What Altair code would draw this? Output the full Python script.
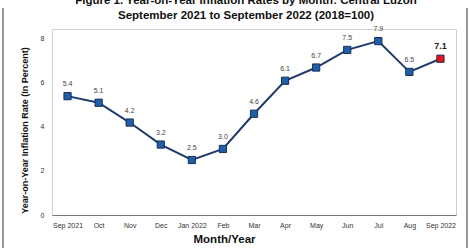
import altair as alt
import pandas as pd

months = ["Sep 2021", "Oct", "Nov", "Dec", "Jan 2022", "Feb", "Mar", "Apr",
          "May", "Jun", "Jul", "Aug", "Sep 2022"]
rates = [5.4, 5.1, 4.2, 3.2, 2.5, 3.0, 4.6, 6.1, 6.7, 7.5, 7.9, 6.5, 7.1]
labels = ["5.4", "5.1", "4.2", "3.2", "2.5", "3.0", "4.6", "6.1", "6.7", "7.5", "7.9", "6.5", "7.1"]
y_ticks = [0, 2, 4, 6, 8]
title_lines = ["Figure 1.  Year-on-Year Inflation Rates by Month: Central Luzon",
               "September 2021 to September 2022 (2018=100)"]

df = pd.DataFrame({"month": months, "rate": rates, "label": labels})
df["latest"] = [False] * (len(months) - 1) + [True]

FONT = "Liberation Sans"
xenc = alt.X("month:N", sort=months,
             scale=alt.Scale(type="point", padding=0.5),
             axis=alt.Axis(title="Month/Year", labelAngle=0, labelFontSize=7,
                           labelColor="#333333", labelFont=FONT, labelPadding=6,
                           ticks=False, domainColor="#777777", domainWidth=1.2,
                           titleFont=FONT, titleFontSize=11.5, titleFontWeight="bold",
                           titleColor="#111111", titleX=172, titleY=24,
                           titleBaseline="middle", grid=False))
yenc = alt.Y("rate:Q", scale=alt.Scale(domain=[0, 8.45], nice=False, zero=True),
             axis=alt.Axis(title="Year-on-Year Inflation Rate (In Percent)",
                           values=y_ticks, labelFontSize=7, labelColor="#333333",
                           labelFont=FONT, labelPadding=8, ticks=False, domain=False,
                           grid=False, titleFont=FONT, titleFontSize=9,
                           titleFontWeight="bold", titleColor="#111111",
                           titleAngle=-90, titleX=-28, titleY=101,
                           titleBaseline="middle", titleAlign="center"))

base = alt.Chart(df)
line = base.mark_line(color="#1F3A6B", strokeWidth=2).encode(x=xenc, y=yenc)
pts = base.mark_square(size=52, opacity=1, stroke="#1A2E55", strokeWidth=1).encode(
    x=xenc, y=yenc,
    color=alt.condition("datum.latest", alt.value("#E8141A"), alt.value("#1F5FA8")))
txt = base.transform_filter("!datum.latest").mark_text(
    dy=-12, fontSize=7, color="#444444", font=FONT).encode(x=xenc, y=yenc, text="label:N")
txt_last = base.transform_filter("datum.latest").mark_text(
    dy=-13, fontSize=9, fontWeight="bold", color="#222222", font=FONT).encode(
    x=xenc, y=yenc, text="label:N")

one = pd.DataFrame({"a": [0]})
frame_l = alt.Chart(one).mark_rule(color="#555555", strokeWidth=1.2, clip=False).encode(
    x=alt.value(-49), y=alt.value(-21), y2=alt.value(219))
frame_r = alt.Chart(one).mark_rule(color="#555555", strokeWidth=1.2, clip=False).encode(
    x=alt.value(415), y=alt.value(-21), y2=alt.value(219))

tdf = pd.DataFrame({"t": title_lines, "i": [0, 1]})
tstyle = dict(font=FONT, fontSize=11.5, fontWeight="bold", color="#111111",
              align="center", baseline="alphabetic", clip=False)
title1 = alt.Chart(tdf).transform_filter("datum.i == 0").mark_text(**tstyle).encode(
    x=alt.value(194), y=alt.value(-25), text="t:N")
title2 = alt.Chart(tdf).transform_filter("datum.i == 1").mark_text(**tstyle).encode(
    x=alt.value(194), y=alt.value(-10.5), text="t:N")

chart = alt.layer(frame_l, frame_r, line, pts, txt, txt_last, title1, title2).properties(
    width=404, height=186,
    autosize=alt.AutoSizeParams(type="none"),
    padding={"left": 52, "top": 29, "right": 18, "bottom": 33},
    background="white",
).configure_view(stroke="#D0D0D0", strokeWidth=1)

chart.save("out.html", embed_options={"renderer": "svg", "actions": False})
